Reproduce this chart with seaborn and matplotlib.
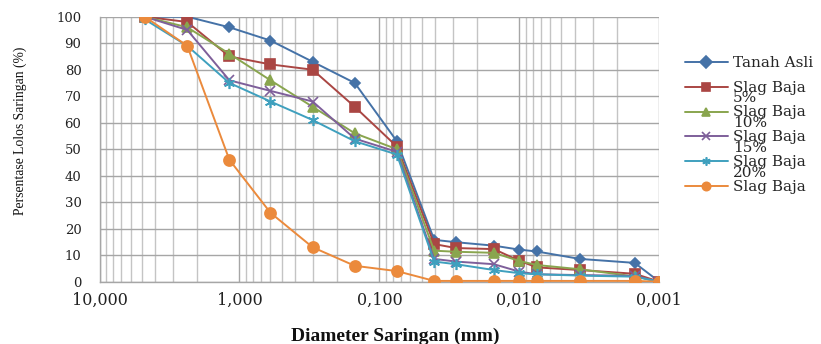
import numpy as np
import pandas as pd
import matplotlib
matplotlib.use("Agg")
import matplotlib.pyplot as plt
import seaborn as sns
from matplotlib.ticker import FixedLocator, FuncFormatter, LogLocator, NullFormatter
from matplotlib.legend_handler import HandlerLine2D

# ---- data ----
diameter = [4.75, 2.36, 1.18, 0.60, 0.30, 0.15, 0.075,
            0.0406, 0.0284, 0.0152, 0.0100, 0.0075, 0.0037, 0.0015, 0.0010]
tanah_asli = [100, 100, 96, 91, 83, 75, 53, 15.8, 14.9, 13.6, 12.1, 11.4, 8.6, 7.1, 0]
slag_5 = [100, 98, 85, 82, 80, 66, 51, 14.2, 12.7, 12.3, 7.9, 5.4, 4.4, 3.0, 0]
slag_10 = [100, 96, 86, 76, 66, 56, 50, 11.7, 11.3, 10.9, 7.8, 6.3, 4.7, 2.0, 0]
slag_15 = [100, 95, 76, 72, 68, 54, 49, 8.6, 7.6, 6.6, 3.8, 2.8, 2.5, 2.2, 0]
slag_20 = [99, 89, 75, 68, 61, 53, 48, 7.6, 6.6, 4.4, 3.2, 2.8, 2.3, 1.9, 0]
slag_baja = [100, 89, 46, 26, 13, 6, 4, 0.3, 0.3, 0.3, 0.3, 0.3, 0.3, 0.3, 0]

labels = ["Tanah Asli\n ", "Slag Baja\n5%", "Slag Baja\n10%", "Slag Baja\n15%",
          "Slag Baja\n20%", "Slag Baja\n "]
series = [tanah_asli, slag_5, slag_10, slag_15, slag_20, slag_baja]
colors = ["#4572A7", "#AA4643", "#89A54E", "#7E5F9A", "#3FA0BE", "#EB8A3C"]
markers = ["D", "s", "^", "x", (6, 2, 0), "o"]
msizes = [5.5, 7.5, 7.5, 7, 8, 8]

x_ticks = [10, 1, 0.1, 0.01, 0.001]
y_ticks = list(range(0, 101, 10))

sns.set_theme(style="white")
plt.rcParams["font.family"] = ["DejaVu Serif"]

fig = plt.figure(figsize=(8.21, 3.44), dpi=100)
ax = fig.add_axes([99.5 / 821, 1 - 281.7 / 344, (659.3 - 99.5) / 821, (281.7 - 16.7) / 344])

for lab, vals, c, m, ms in zip(labels, series, colors, markers, msizes):
    sns.lineplot(x=diameter, y=vals, ax=ax, color=c, marker=m, markersize=ms,
                 markeredgecolor=c, markerfacecolor=c, markeredgewidth=1.2,
                 linewidth=1.4, label=lab, legend=False, zorder=3)

ax.set_xscale("log")
ax.set_xlim(10, 0.001)
ax.set_ylim(0, 100)
ax.xaxis.set_major_locator(FixedLocator(x_ticks))
ax.xaxis.set_major_formatter(FuncFormatter(lambda v, p: f"{v:.3f}".replace(".", ",")))
ax.xaxis.set_minor_locator(LogLocator(base=10, subs=np.arange(2, 10)))
ax.xaxis.set_minor_formatter(NullFormatter())
ax.yaxis.set_major_locator(FixedLocator(y_ticks))

ax.grid(True, which="major", axis="both", color="#A6A6A6", linewidth=1.0)
ax.grid(True, which="minor", axis="x", color="#C4C4C4", linewidth=1.0)
ax.set_axisbelow(True)
for s in ["top", "right"]:
    ax.spines[s].set_visible(False)
for s in ["left", "bottom"]:
    ax.spines[s].set_color("#A6A6A6")
    ax.spines[s].set_linewidth(1.0)

ax.tick_params(axis="x", which="major", labelsize=11.5, colors="#222222",
               length=4, direction="out", width=1, color="#A6A6A6", pad=3)
ax.tick_params(axis="y", which="major", labelsize=9.5, colors="#222222",
               length=0, pad=13)
ax.tick_params(axis="x", which="minor", length=0)
ax.set_xlabel("")
ax.set_ylabel("")

fig.text(20 / 821, 1 - 131 / 344, "Persentase Lolos Saringan (%)", rotation=90,
         ha="center", va="center", fontsize=9.8, family=["Liberation Serif"],
         color="#111111")
fig.text(395 / 821, 1 - 336 / 344, "Diameter Saringan (mm)", ha="center",
         va="center", fontsize=14, fontweight="bold", family=["Liberation Serif"],
         color="#111111")


class FirstLineHandler(HandlerLine2D):
    def __init__(self, shift=0.0, **kw):
        super().__init__(**kw)
        self.shift = shift

    def create_artists(self, legend, orig_handle, xdescent, ydescent, width,
                       height, fontsize, trans):
        return super().create_artists(legend, orig_handle, xdescent,
                                      ydescent - 2 * self.shift, width, height,
                                      fontsize, trans)


handles, labs = ax.get_legend_handles_labels()
fs = 11
hmap = {h: FirstLineHandler(shift=4.5) for h in handles}
leg = fig.legend(handles, labs, loc="upper left", bbox_to_anchor=(685 / 821, 1 - 56 / 344),
                 frameon=False, fontsize=fs, handlelength=2.8, handletextpad=0.35,
                 labelspacing=0.0, borderaxespad=0, borderpad=0, handler_map=hmap)
for t in leg.get_texts():
    t.set_linespacing(0.70)
for h in leg.legend_handles:
    h.set_markersize(6)

fig.savefig("out.png", dpi=100)
